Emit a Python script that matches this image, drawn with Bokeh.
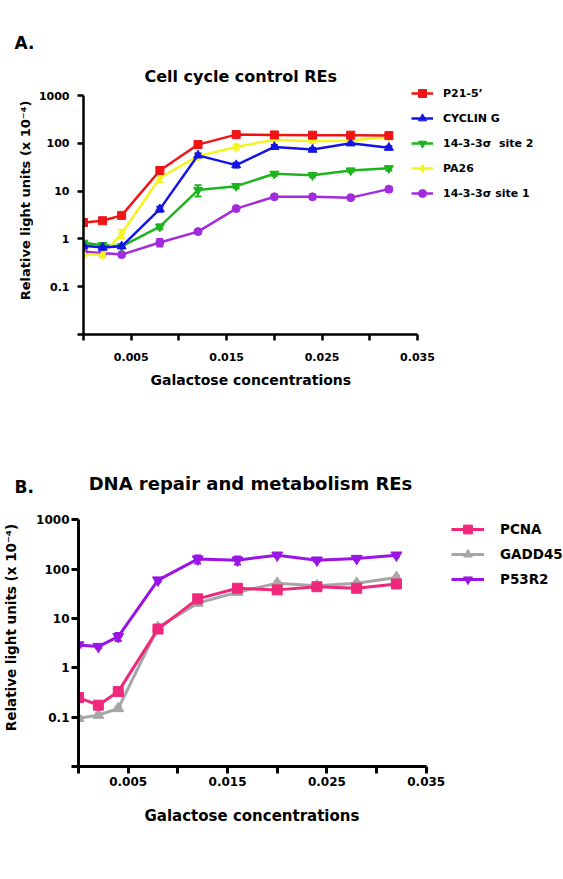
import math
from bokeh.plotting import figure
from bokeh.models import (ColumnDataSource, FixedTicker, Label, Legend, LegendItem,
                          Whisker, TeeHead, Range1d, CustomJSTickFormatter, Title)
from bokeh.layouts import column, row
from bokeh.embed import file_html
from bokeh.resources import INLINE

FONT = "DejaVu Sans"

# ---------------- data ----------------
galactose = [0.0, 0.002, 0.004, 0.008, 0.012, 0.016, 0.020, 0.024, 0.028, 0.032]
x_ticks_labeled = [0.005, 0.015, 0.025, 0.035]
x_ticks_plain = [0.0, 0.010, 0.020, 0.030]
y_ticks_labeled = [0.1, 1, 10, 100, 1000]
y_ticks_plain = [0.01]

# Panel A : Cell cycle control REs
a_names = ["P21-5\u2019", "CYCLIN G", "14-3-3\u03c3  site 2", "PA26", "14-3-3\u03c3 site 1"]
a_p21 = [2.2, 2.4, 3.1, 27, 94, 152, 150, 148, 148, 145]
a_cyclin = [0.72, 0.66, 0.70, 4.2, 56, 35, 84, 74, 100, 81]
a_site2 = [0.83, 0.74, 0.70, 1.8, 10.5, 12.7, 23, 21.5, 27, 30]
a_pa26 = [0.48, 0.46, 1.3, 19, 54, 84, 119, 110, 115, 135]
a_site1 = [0.54, 0.51, 0.47, 0.84, 1.42, 4.3, 7.6, 7.6, 7.3, 11]
a_p21_err = [0.2, 0.2, 0.3, 2, 6, 10, 8, 8, 8, 10]
a_cyclin_err = [0.05, 0.05, 0.05, 0.5, 5, 4, 8, 6, 8, 6]
a_site2_err = [0.05, 0.05, 0.05, 0.2, 2.8, 1.2, 2, 2, 2, 3]
a_pa26_err = [0.05, 0.05, 0.25, 3.5, 8, 10, 10, 8, 8, 10]
a_site1_err = [0.04, 0.04, 0.04, 0.15, 0.12, 0.3, 0.5, 0.5, 0.5, 1.2]

# Panel B : DNA repair and metabolism REs
b_names = ["PCNA", "GADD45", "P53R2"]
b_pcna = [0.25, 0.175, 0.33, 6.1, 25, 41, 38, 44, 41, 50]
b_gadd45 = [0.095, 0.11, 0.15, 6.6, 20.5, 34, 52, 46, 52, 68]
b_p53r2 = [2.9, 2.7, 4.3, 60, 160, 152, 192, 152, 164, 192]
b_pcna_err = [0.02, 0.02, 0.03, 0.5, 3, 4, 3, 4, 4, 5]
b_gadd45_err = [0.01, 0.01, 0.015, 0.6, 2, 3, 5, 4, 5, 6]
b_p53r2_err = [0.2, 0.2, 0.8, 6, 30, 28, 15, 12, 12, 12]

Y_LABEL = "Relative light units (x 10\u207b\u2074)"
X_LABEL = "Galactose concentrations"
STRIP_W = 33
MAIN_W = 563 - STRIP_W


def txt(p, x, y, text, size, angle=0.0, align="left"):
    p.add_layout(Label(x=x, y=y, x_units="screen", y_units="screen", text=text,
                       text_font=FONT, text_font_style="bold", text_font_size=size,
                       text_align=align, text_baseline="middle", angle=angle,
                       text_color="black"))


def make_strip(height):
    s = figure(width=STRIP_W, height=height, x_range=Range1d(0, 1), y_range=Range1d(0, 1),
               x_axis_location=None, y_axis_location=None, output_backend="svg",
               toolbar_location=None, min_border=0)
    s.grid.visible = False
    s.outline_line_color = None
    s.background_fill_color = "white"
    s.border_fill_color = "white"
    return s


def make_panel(height, borders, xr, yr, series, tick_font, tick_out, lw,
               x_standoff, y_standoff, xlabel_size, xlabel_offset, xlabel_standoff,
               legend_cfg):
    bl, br, bt, bb = borders
    p = figure(width=MAIN_W, height=height, x_range=Range1d(*xr), y_range=Range1d(*yr),
               y_axis_type="log", output_backend="svg", toolbar_location=None,
               min_border_left=bl, min_border_right=br, min_border_top=bt,
               min_border_bottom=bb)
    p.grid.visible = False
    p.outline_line_color = None
    p.background_fill_color = "white"
    p.border_fill_color = "white"

    xa = p.xaxis[0]
    ya = p.yaxis[0]
    xa.ticker = FixedTicker(ticks=x_ticks_labeled, minor_ticks=x_ticks_plain)
    ya.ticker = FixedTicker(ticks=y_ticks_labeled, minor_ticks=y_ticks_plain)
    xa.formatter = CustomJSTickFormatter(code="return String(tick)")
    ya.formatter = CustomJSTickFormatter(code="return String(tick)")
    xa.bounds = (0, 0.035)
    ya.bounds = (0.01, 1000)
    for ax in (xa, ya):
        ax.axis_line_color = "black"
        ax.axis_line_width = lw
        ax.major_tick_line_color = "black"
        ax.minor_tick_line_color = "black"
        ax.major_tick_line_width = lw
        ax.minor_tick_line_width = lw
        ax.major_tick_out = tick_out
        ax.minor_tick_out = tick_out
        ax.major_tick_in = 0
        ax.minor_tick_in = 0
        ax.major_label_text_font = FONT
        ax.major_label_text_font_style = "bold"
        ax.major_label_text_font_size = tick_font
        ax.major_label_text_color = "black"
    xa.major_label_standoff = x_standoff
    ya.major_label_standoff = y_standoff

    # x-axis title, centred under the axis bounds (0 .. 0.035)
    p.add_layout(Title(text=X_LABEL, align="left", offset=xlabel_offset,
                       standoff=xlabel_standoff, text_font=FONT,
                       text_font_style="bold", text_font_size=xlabel_size,
                       text_color="black"), "below")

    items = []
    for name, vals, errs, color, marker, size in series:
        lo = [v - e for v, e in zip(vals, errs)]
        hi = [v + e for v, e in zip(vals, errs)]
        src = ColumnDataSource(dict(x=galactose, y=vals, lo=lo, hi=hi))
        w = Whisker(source=src, base="x", lower="lo", upper="hi",
                    line_color=color, line_width=2,
                    upper_head=TeeHead(size=7, line_color=color, line_width=2),
                    lower_head=TeeHead(size=7, line_color=color, line_width=2))
        p.add_layout(w)
        lr = p.line("x", "y", source=src, line_color=color, line_width=lw)
        sr = p.scatter("x", "y", source=src, marker=marker, size=size,
                       fill_color=color, line_color=color)
        items.append((name, [lr, sr]))

    leg = Legend(items=[LegendItem(label=n, renderers=r) for n, r in legend_cfg["order"](items)],
                 location=legend_cfg["loc"], padding=0, margin=0,
                 border_line_color=None, background_fill_alpha=0,
                 glyph_width=legend_cfg["gw"], glyph_height=legend_cfg["gh"],
                 label_height=legend_cfg["gh"], spacing=legend_cfg["sp"],
                 label_standoff=legend_cfg["ls"],
                 label_text_font=FONT, label_text_font_style="bold",
                 label_text_font_size=legend_cfg["fs"], label_text_color="black")
    p.add_layout(leg)
    return p


# ---------------- panel A ----------------
a_series = [
    (a_names[4], a_site1, a_site1_err, "#A22BDE", "circle", 8),
    (a_names[2], a_site2, a_site2_err, "#1EB41E", "inverted_triangle", 9),
    (a_names[3], a_pa26, a_pa26_err, "#F5F51E", "diamond", 9),
    (a_names[1], a_cyclin, a_cyclin_err, "#1414E6", "triangle", 9),
    (a_names[0], a_p21, a_p21_err, "#F01414", "square", 8),
]
pa = make_panel(430, (50, 0, 30, 96), (0.0, 0.0503), (0.01, 10 ** 4.36),
                a_series, "11px", 6, 2.5, 12, 8, "14px", 67, 13,
                dict(order=lambda it: [it[4], it[3], it[1], it[2], it[0]],
                     loc=(328, 131), gw=22, gh=20, sp=5, ls=10, fs="11px"))
txt(pa, 160, 258, "Cell cycle control  REs", "16px", align="center")

sa = make_strip(430)
txt(sa, 14, 292, "A.", "17px")
txt(sa, 25, 134, Y_LABEL, "13px", angle=math.pi / 2, align="center")

# ---------------- panel B ----------------
b_series = [
    (b_names[1], b_gadd45, b_gadd45_err, "#A6A6A6", "triangle", 11),
    (b_names[0], b_pcna, b_pcna_err, "#F0287A", "square", 10),
    (b_names[2], b_p53r2, b_p53r2_err, "#9A14E6", "inverted_triangle", 11),
]
pb = make_panel(449, (44, 0, 30, 113), (0.0, 0.04882), (0.01, 10 ** 4.202),
                b_series, "12px", 7, 3, 3, 2, "15px", 66, 32,
                dict(order=lambda it: [it[1], it[0], it[2]],
                     loc=(373, 176), gw=33, gh=22, sp=3, ls=16, fs="13.5px"))
txt(pb, 172, 283, "DNA repair and metabolism REs", "18px", align="center")

sb = make_strip(449)
txt(sb, 14, 280, "B.", "17px")
txt(sb, 10, 139, Y_LABEL, "13.5px", angle=math.pi / 2, align="center")

layout = column(row(sa, pa, spacing=0), row(sb, pb, spacing=0), spacing=0)
open("out.html", "w").write(file_html(layout, INLINE))
